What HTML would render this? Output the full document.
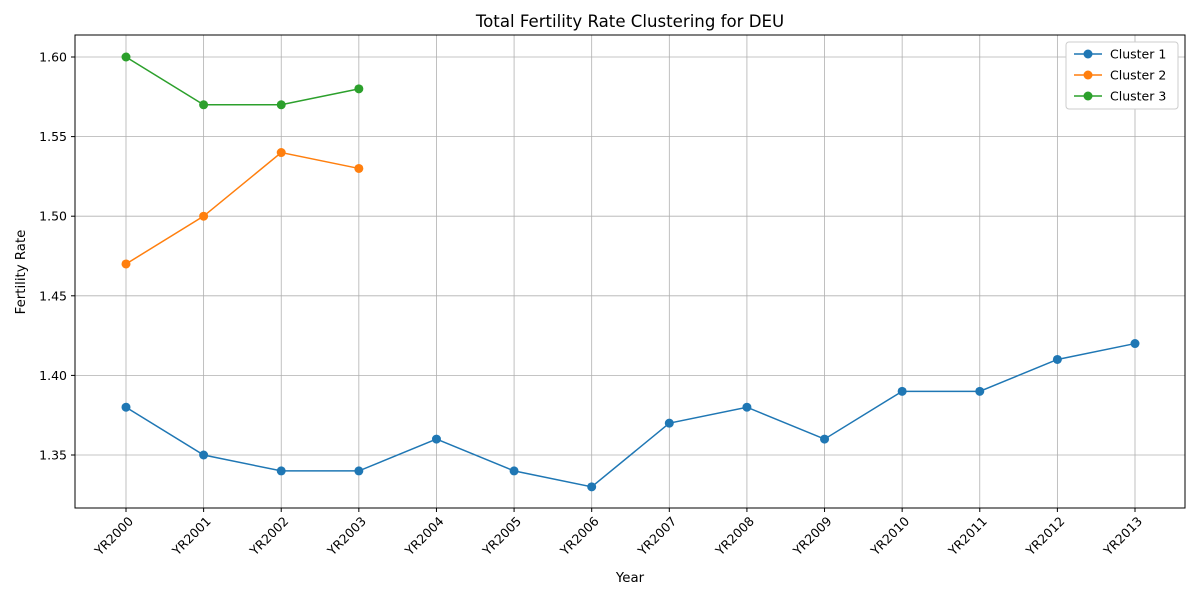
<!DOCTYPE html>
<html><head><meta charset="utf-8"><style>
body{margin:0;background:#fff;}
svg text{font-family:"DejaVu Sans","Liberation Sans",sans-serif;}
</style></head><body>
<svg id="chart" width="1200" height="600" xmlns="http://www.w3.org/2000/svg">
<rect width="1200" height="600" fill="#fff"/>
<text x="630" y="27" font-size="16.6" text-anchor="middle">Total Fertility Rate Clustering for DEU</text>
<g id="grid"></g>
<g id="ticks"></g>
<rect x="75" y="35" width="1110" height="473" fill="none" stroke="#000" stroke-width="1"/>
<g id="series"></g>
<text x="630" y="582" font-size="13.3" text-anchor="middle">Year</text>
<text transform="translate(25,272) rotate(-90)" font-size="13.3" text-anchor="middle">Fertility Rate</text>
<g>
<rect x="1066" y="42" width="112" height="67" rx="3" fill="#fff" stroke="#ccc"/>
<g id="legend"></g>
</g>
</svg>
<script>
const categories=["YR2000","YR2001","YR2002","YR2003","YR2004","YR2005","YR2006","YR2007","YR2008","YR2009","YR2010","YR2011","YR2012","YR2013"];
const cluster1=[1.38,1.35,1.34,1.34,1.36,1.34,1.33,1.37,1.38,1.36,1.39,1.39,1.41,1.42];
const cluster2=[1.47,1.50,1.54,1.53];
const cluster3=[1.60,1.57,1.57,1.58];
const yTicks=[1.35,1.40,1.45,1.50,1.55,1.60];
const seriesNames=["Cluster 1","Cluster 2","Cluster 3"];
const colors=["#1f77b4","#ff7f0e","#2ca02c"];
const NS="http://www.w3.org/2000/svg";
function x(i){return 126+i*(1135-126)/13;}
function y(v){return 57+(1.60-v)/0.05*79.6;}
function mk(tag,attrs,parent){const e=document.createElementNS(NS,tag);for(const k in attrs)e.setAttribute(k,attrs[k]);parent.appendChild(e);return e;}
const grid=document.getElementById('grid'),ticks=document.getElementById('ticks'),ser=document.getElementById('series'),leg=document.getElementById('legend');
categories.forEach((c,i)=>{
  const l=mk('line',{x1:x(i),x2:x(i),y1:35,y2:508,stroke:'#b0b0b0','stroke-width':0.8},grid);
  
  
  mk('line',{x1:x(i),x2:x(i),y1:508,y2:512,stroke:'#000'},ticks);
  const t=mk('text',{x:x(i)+8,y:522,'font-size':12.5,'text-anchor':'end',transform:`rotate(-45 ${x(i)+8} 522)`},ticks);
  t.textContent=c;
  
  
});
yTicks.forEach(v=>{
  const l=mk('line',{x1:75,x2:1185,y1:y(v),y2:y(v),stroke:'#b0b0b0','stroke-width':0.8},grid);
  
  
  mk('line',{x1:71,x2:75,y1:y(v),y2:y(v),stroke:'#000'},ticks);
  const t=mk('text',{x:67,y:y(v)+4.5,'font-size':12.5,'text-anchor':'end'},ticks);
  t.textContent=v.toFixed(2);
  
  
});
[cluster1,cluster2,cluster3].forEach((d,s)=>{
  const g=mk('g',{},ser);
  
  
  mk('polyline',{points:d.map((v,i)=>x(i)+','+y(v)).join(' '),fill:'none',stroke:colors[s],'stroke-width':1.5},g);
  d.forEach((v,i)=>{
    const c=mk('circle',{cx:x(i),cy:y(v),r:4.5,fill:colors[s]},g);
    
    
  });
  const ly=54+s*21;
  const e=mk('g',{},leg);
  
  
  mk('line',{x1:1074,x2:1102,y1:ly,y2:ly,stroke:colors[s],'stroke-width':1.5},e);
  mk('circle',{cx:1088,cy:ly,r:4.5,fill:colors[s]},e);
  const t=mk('text',{x:1110,y:ly+4.5,'font-size':12.5},e);
  t.textContent=seriesNames[s];
});
</script>
</body></html>
